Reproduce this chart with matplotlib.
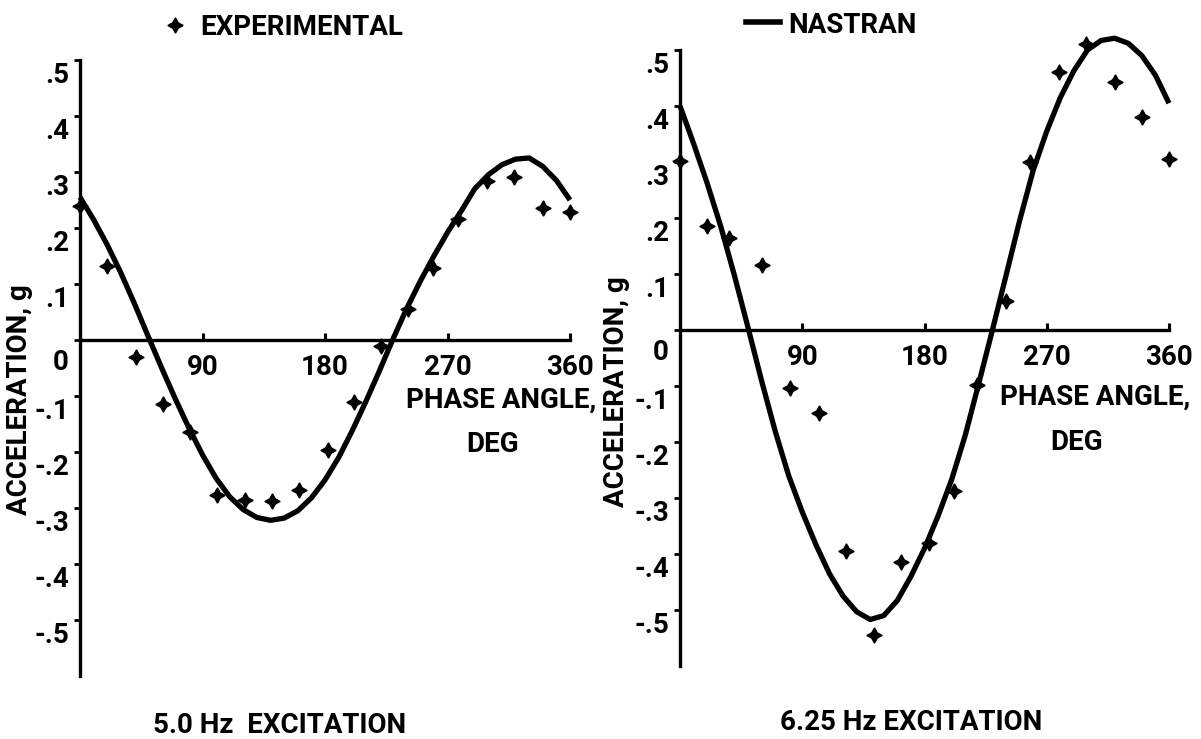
import matplotlib
matplotlib.use("Agg")
import matplotlib.pyplot as plt
from matplotlib.lines import Line2D

# =========================================================
# DATA
# =========================================================
# 5.0 Hz excitation - experimental points
phase_exp_5 = [0, 20, 41, 61, 81, 101, 121, 141, 161, 182, 201, 221, 241, 259, 278, 299, 319, 340, 360]
accel_exp_5 = [0.240, 0.133, -0.030, -0.114, -0.165, -0.277, -0.285, -0.287, -0.268, -0.197,
               -0.111, -0.010, 0.056, 0.129, 0.216, 0.284, 0.291, 0.236, 0.228]

# 6.25 Hz excitation - experimental points
phase_exp_625 = [0, 20, 36, 60, 81, 102, 122, 143, 163, 183, 202, 219, 240, 258, 279, 299, 320, 340, 360]
accel_exp_625 = [0.302, 0.186, 0.165, 0.116, -0.104, -0.148, -0.395, -0.545, -0.415, -0.381,
                 -0.287, -0.098, 0.051, 0.300, 0.461, 0.510, 0.443, 0.381, 0.306]

# NASTRAN curves, read every 10 deg
phase_nastran = [0, 10, 20, 30, 40, 50, 60, 70, 80, 90, 100, 110, 120, 130, 140, 150, 160, 170, 180,
                 190, 200, 210, 220, 230, 240, 250, 260, 270, 280, 290, 300, 310, 320, 330, 340, 350, 360]
accel_nastran_5 = [0.255, 0.215, 0.170, 0.120, 0.065, 0.007, -0.050, -0.105, -0.157, -0.205,
                   -0.247, -0.280, -0.303, -0.317, -0.322, -0.318, -0.305, -0.282, -0.250,
                   -0.210, -0.162, -0.110, -0.055, 0.002, 0.056, 0.105, 0.150, 0.192, 0.230,
                   0.270, 0.295, 0.313, 0.323, 0.325, 0.310, 0.285, 0.250]
accel_nastran_625 = [0.400, 0.333, 0.262, 0.185, 0.098, 0.005, -0.090, -0.180, -0.260, -0.325,
                     -0.383, -0.435, -0.475, -0.503, -0.517, -0.510, -0.483, -0.440, -0.390,
                     -0.332, -0.267, -0.188, -0.095, 0.000, 0.097, 0.195, 0.285, 0.355, 0.415,
                     0.463, 0.500, 0.517, 0.521, 0.512, 0.490, 0.455, 0.405]

x_ticks = [90, 180, 270, 360]
x_tick_labels = ["90", "180", "270", "360"]
y_ticks = [0.5, 0.4, 0.3, 0.2, 0.1, 0.0, -0.1, -0.2, -0.3, -0.4, -0.5]
y_tick_labels = [".5", ".4", ".3", ".2", ".1", "0", "-.1", "-.2", "-.3", "-.4", "-.5"]

# =========================================================
# STYLE
# =========================================================
plt.rcParams.update({
    "font.family": ["Roboto", "DejaVu Sans"],
    "font.weight": "bold",
})
FS = 20
W, H = 1201, 739

fig = plt.figure(figsize=(W / 100, H / 100), dpi=100)

star = (4, 1, 0)


def fx(px):
    return px / W


def fy(py):
    return 1 - py / H


def draw_panel(rect, phase_exp, accel_exp, accel_nas):
    ax = fig.add_axes(rect)
    ax.set_xlim(0, 360)
    ax.set_ylim(-0.6, 0.5)
    for s in ["top", "right"]:
        ax.spines[s].set_visible(False)
    ax.spines["bottom"].set_position(("data", 0))
    ax.spines["bottom"].set_bounds(0, 360)
    ax.spines["left"].set_bounds(-0.6, 0.5)
    ax.spines["left"].set_linewidth(2.4)
    ax.spines["bottom"].set_linewidth(2.4)

    ax.plot(phase_nastran, accel_nas, color="black", lw=3.8,
            solid_capstyle="butt", solid_joinstyle="round", clip_on=False, zorder=3)
    ax.plot(phase_exp, accel_exp, linestyle="none", marker=star, ms=11,
            color="black", clip_on=False, zorder=4)

    ax.set_xticks(x_ticks, x_tick_labels, fontsize=FS, fontweight="bold")
    ax.tick_params(axis="x", direction="in", length=5, width=2.2, pad=10)
    ax.set_xticks([360], minor=True)
    ax.tick_params(axis="x", which="minor", direction="in", length=9, width=2.4)

    ax.set_yticks(y_ticks, [""] * len(y_ticks))
    ax.tick_params(axis="y", direction="out", length=4, width=2)
    ax.set_yticks([0.5], minor=True)
    ax.tick_params(axis="y", which="minor", direction="in", length=6, width=2.2)

    for v, lab in zip(y_ticks, y_tick_labels):
        dy = -16.5 if v == 0 else -11
        ax.annotate(lab, xy=(0, v), xycoords="data", xytext=(-8, dy),
                    textcoords="offset points", ha="right", va="center",
                    fontsize=FS, fontweight="bold")
    return ax


ax1 = draw_panel([fx(80), fy(676), 490 / W, 616 / H], phase_exp_5, accel_exp_5, accel_nastran_5)
ax2 = draw_panel([fx(680), fy(666), 489 / W, 616 / H], phase_exp_625, accel_exp_625, accel_nastran_625)

# legend-like headers
fig.add_artist(Line2D([fx(175)], [fy(25)], marker=star, ms=11, color="black",
                      transform=fig.transFigure))
fig.text(fx(200), fy(35), "EXPERIMENTAL", fontsize=FS, fontweight="bold",
         ha="left", va="baseline")
fig.add_artist(Line2D([fx(746), fx(780)], [fy(22), fy(22)], lw=4, color="black",
                      transform=fig.transFigure))
fig.text(fx(788), fy(33), "NASTRAN", fontsize=FS, fontweight="bold",
         ha="left", va="baseline")

# axis titles
fig.text(fx(406), fy(408), "PHASE ANGLE,", fontsize=FS, fontweight="bold",
         ha="left", va="baseline")
fig.text(fx(493), fy(452), "DEG", fontsize=FS, fontweight="bold",
         ha="center", va="baseline")
fig.text(fx(1000), fy(405), "PHASE ANGLE,", fontsize=FS, fontweight="bold",
         ha="left", va="baseline")
fig.text(fx(1077), fy(450), "DEG", fontsize=FS, fontweight="bold",
         ha="center", va="baseline")

fig.text(fx(20), fy(400), "ACCELERATION, g", fontsize=FS, fontweight="bold",
         rotation=90, ha="center", va="center")
fig.text(fx(616), fy(392), "ACCELERATION, g", fontsize=FS, fontweight="bold",
         rotation=90, ha="center", va="center")

# captions
fig.text(fx(153), fy(733), "5.0 Hz  EXCITATION", fontsize=FS, fontweight="bold",
         ha="left", va="baseline")
fig.text(fx(780), fy(730), "6.25 Hz EXCITATION", fontsize=FS, fontweight="bold",
         ha="left", va="baseline")

fig.savefig("out.png", dpi=100)
